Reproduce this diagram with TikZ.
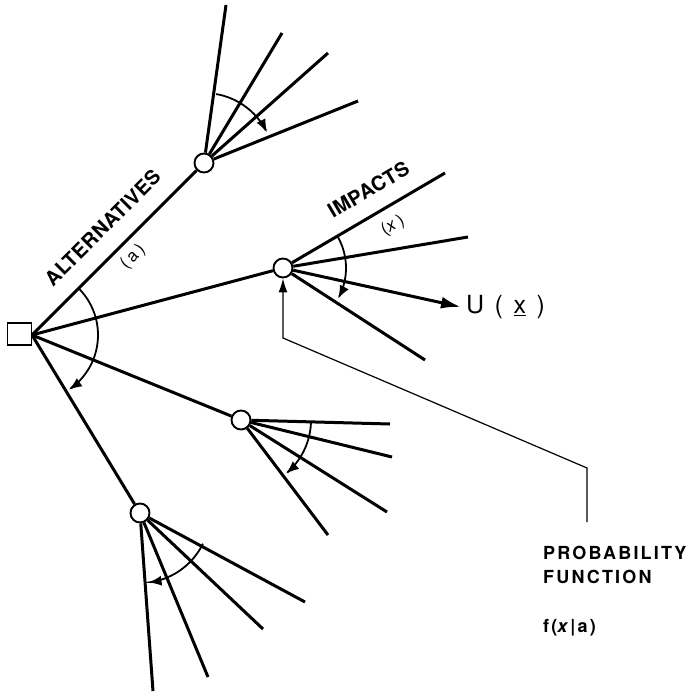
\documentclass[tikz,border=0pt]{standalone}
\usepackage{fontspec}
\setmainfont{TeX Gyre Heros}
\newfontfamily\lblfont[LetterSpace=2]{TeX Gyre Heros}
\newfontfamily\notefont[LetterSpace=12]{TeX Gyre Heros}
\newfontfamily\parfont[LetterSpace=20]{TeX Gyre Heros}
\usetikzlibrary{arrows.meta}
\begin{document}
\begin{tikzpicture}[x=1pt,y=-1pt,
  branch/.style={line width=3pt},
  sweep/.style={line width=1.8pt,-{Latex[length=13pt,width=10pt]}},
  chance/.style={circle,draw,line width=1.9pt,fill=white,minimum size=19pt,inner sep=0pt},
  decision/.style={rectangle,draw,line width=1.9pt,fill=white,minimum width=24pt,minimum height=22pt,inner sep=0pt},
  lab/.style={font=\lblfont\bfseries\fontsize{20}{22}\selectfont,inner sep=0pt},
  paren/.style={font=\parfont\fontsize{17}{19}\selectfont,inner sep=0pt},
  note/.style={font=\notefont\bfseries\fontsize{18}{24}\selectfont,inner sep=0pt}
  ]
\useasboundingbox (0,0) rectangle (690,695);

% nodes
\node[decision] (sq) at (19.5,334) {};
\coordinate (R) at (32,335);
\node[chance] (c1) at (204,163) {};
\node[chance] (c2) at (283,268) {};
\node[chance] (c3) at (241,420) {};
\node[chance] (c4) at (140,513) {};

% end points
\coordinate (e11) at (226,5);
\coordinate (e12) at (282,33);
\coordinate (e13) at (328,53);
\coordinate (e14) at (358,101);
\coordinate (e21) at (445,173);
\coordinate (e22) at (468,237);
\coordinate (e23) at (461,307);
\coordinate (e24) at (425,360);
\coordinate (e31) at (390,424);
\coordinate (e32) at (392,457);
\coordinate (e33) at (387,512);
\coordinate (e34) at (328,535);
\coordinate (e41) at (305,602);
\coordinate (e42) at (263,629);
\coordinate (e43) at (208,677);
\coordinate (e44) at (153,691);

% alternatives
\draw[branch] (R) -- (c1);
\draw[branch] (R) -- (c2);
\draw[branch] (R) -- (c3);
\draw[branch] (R) -- (c4);

% impacts
\foreach \i in {1,2,3,4}{\draw[branch] (c1) -- (e1\i);}
\draw[branch] (c2) -- (e21);
\draw[branch] (c2) -- (e22);
\draw[branch,-{Latex[length=20pt,width=12pt]}] (c2) -- (e23);
\draw[branch] (c2) -- (e24);
\foreach \i in {1,2,3,4}{\draw[branch] (c3) -- (e3\i);}
\foreach \i in {1,2,3,4}{\draw[branch] (c4) -- (e4\i);}

% sweeping arcs
\draw[sweep,shift={(R)}] plot[domain=-45:56,samples=40,smooth] (\x:66);
\draw[sweep,shift={(c1)}] plot[domain=-80:-26,samples=30,smooth] (\x:70);
\draw[sweep,shift={(c2)}] plot[domain=-30:29,samples=30,smooth] (\x:63);
\draw[sweep,shift={(c3)}] plot[domain=1:50,samples=30,smooth] (\x:70);
\draw[sweep,shift={(c4)}] plot[domain=26:83,samples=30,smooth] (\x:70);

% labels
\node[lab,rotate=45] (alt) at (102.5,227.5) {ALTERNATIVES};
\node[paren,rotate=45] (la) at (133,257) {(a)};
\node[lab,rotate=30.5] (imp) at (368.5,189.5) {IMPACTS};
\node[paren,rotate=30.5] (lx) at (393,226) {(\textit{x})};
\node[anchor=west,inner sep=0pt,font=\fontsize{25}{28}\selectfont] (U) at (466,307) {U\hspace{0.42em}(\hspace{0.42em}\underline{x}\hspace{0.42em})};

% probability function
\node[note,anchor=north west,align=left] (pf) at (543,546) {PROBABILITY\\FUNCTION};
\node[note,anchor=west] (f) at (543,628) {f(\textit{x}|a)};
\coordinate (k2) at (587,522);
\coordinate (k1) at (587,468);
\coordinate (k0) at (283,338);
\draw[line width=1.2pt,-{Latex[length=14pt,width=9pt]}] (k2) -- (k1) -- (k0) -- (c2);
\end{tikzpicture}
\end{document}
